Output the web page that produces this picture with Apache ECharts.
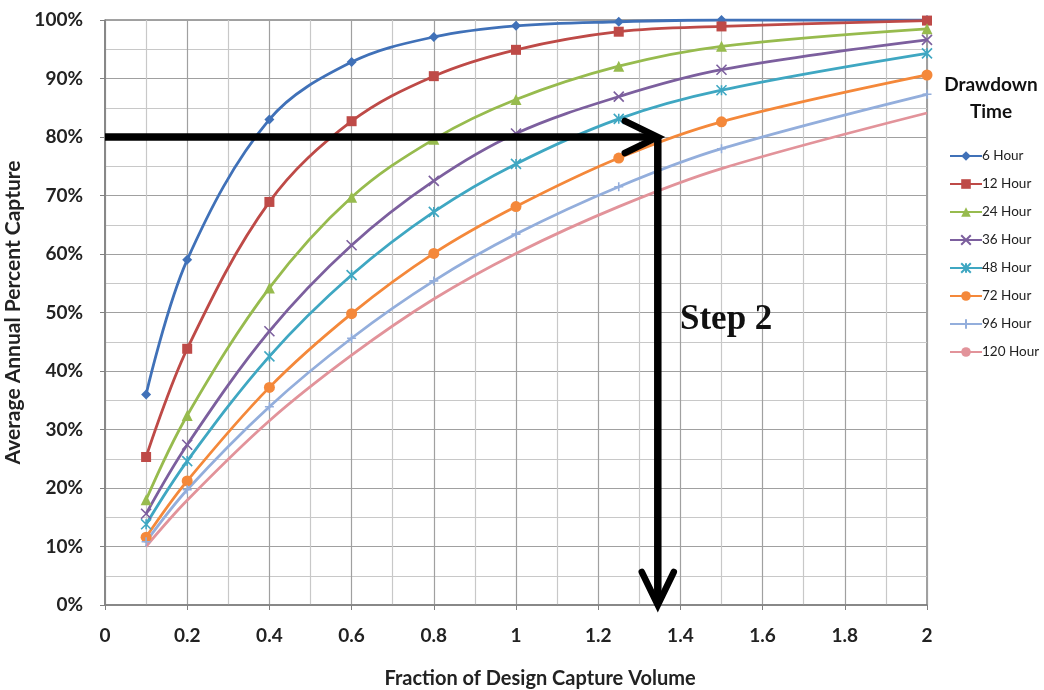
<!DOCTYPE html>
<html><head><meta charset="utf-8">
<script src="https://cdn.jsdelivr.net/npm/echarts@6/dist/echarts.min.js"></script>
<style>html,body{margin:0;padding:0;background:#fff}#c{width:1044px;height:690px}</style>
</head><body><div id="c"></div>
<script>
const xValues = [0.1, 0.2, 0.4, 0.6, 0.8, 1.0, 1.25, 1.5, 2.0];
const seriesNames = ['6 Hour','12 Hour','24 Hour','36 Hour','48 Hour','72 Hour','96 Hour','120 Hour'];
const h6   = [36, 59, 83, 92.8, 97.1, 99, 99.7, 100, 100];
const h12  = [25.3, 43.8, 68.9, 82.7, 90.4, 94.9, 98, 98.9, 99.9];
const h24  = [18, 32.4, 54.2, 69.7, 79.6, 86.4, 92.1, 95.5, 98.5];
const h36  = [15.6, 27.4, 46.8, 61.5, 72.5, 80.6, 86.9, 91.5, 96.6];
const h48  = [13.8, 24.6, 42.5, 56.4, 67.2, 75.4, 83.1, 88, 94.3];
const h72  = [11.6, 21.2, 37.2, 49.8, 60.1, 68.1, 76.4, 82.6, 90.6];
const h96  = [10.8, 19.7, 33.9, 45.6, 55.4, 63.4, 71.5, 78, 87.3];
const h120 = [10.0, 17.9, 31.5, 42.7, 52.3, 60.1, 68.1, 74.6, 84.1];
const yTickLabels = ['0%','10%','20%','30%','40%','50%','60%','70%','80%','90%','100%'];
const arrowSegments = [[0, 80, 1.345, 80], [1.345, 80, 1.345, 0]];

const allValues = [h6,h12,h24,h36,h48,h72,h96,h120];
const colors = ['#4071B8','#BE4A47','#97BB4E','#7C5F9E','#3FA7C2','#F4883A','#93AEDC','#E2939A'];
const symbols = ['diamond','rect','triangle',
  'path://M0,0L10,10M10,0L0,10',
  'path://M0,0L10,10M10,0L0,10M5,0L5,10',
  'circle',
  'path://M5,0L5,10M0,5L10,5',
  'none'];
const symSizes = [10, 10, 11, 10, 10, 11, 9, 6];

const series = allValues.map((vals, i) => ({
  name: seriesNames[i],
  type: 'line',
  smooth: 0.35,
  data: vals.map((v, j) => [xValues[j], v]),
  symbol: symbols[i],
  symbolSize: symSizes[i],
  lineStyle: { color: colors[i], width: 2.8 },
  itemStyle: { color: colors[i], borderColor: colors[i], borderWidth: (i===3||i===4||i===6) ? 1.6 : 0 },
  z: 3
}));

series.push({
  type: 'custom',
  name: 'arrows',
  data: arrowSegments,
  z: 10,
  silent: true,
  renderItem: function (params, api) {
    const p1 = api.coord([api.value(0), api.value(1)]);
    const p2 = api.coord([api.value(2), api.value(3)]);
    const dx = p2[0] - p1[0], dy = p2[1] - p1[1];
    const len = Math.sqrt(dx*dx + dy*dy);
    const ux = dx/len, uy = dy/len;
    const px = -uy, py = ux;
    const back = 33, side = 16;
    const a1 = [p2[0] - ux*back + px*side, p2[1] - uy*back + py*side];
    const a2 = [p2[0] - ux*back - px*side, p2[1] - uy*back - py*side];
    return {
      type: 'group',
      children: [
        { type: 'line', shape: { x1: p1[0], y1: p1[1], x2: p2[0] - ux*2, y2: p2[1] - uy*2 },
          style: { stroke: '#000', lineWidth: 7.5 } },
        { type: 'polyline', shape: { points: [a1, p2, a2] },
          style: { stroke: '#000', lineWidth: 6.5, fill: null, lineJoin: 'miter', lineCap: 'round' } }
      ]
    };
  }
});

const chart = echarts.init(document.getElementById('c'));
chart.setOption({
  animation: false,
  backgroundColor: '#fff',
  grid: { left: 105, top: 20, right: 117, bottom: 85, show: true, borderColor: '#444', borderWidth: 1,
          containLabel: false, outerBoundsMode: 'none' },
  title: {
    text: 'Drawdown\nTime', left: 986, top: 66, textAlign: 'center',
    textStyle: { fontFamily: 'Lato', fontWeight: 'bold', fontSize: 19, color: '#111', lineHeight: 27 }
  },
  legend: {
    orient: 'vertical', left: 944, top: 144, itemWidth: 32, itemHeight: 12, itemGap: 14,
    data: seriesNames,
    textStyle: { fontFamily: 'Lato', fontSize: 13.5, color: '#222', padding: [0,0,0,-5] }
  },
  xAxis: {
    type: 'value', min: 0, max: 2, interval: 0.2,
    name: 'Fraction of Design Capture Volume', nameLocation: 'middle', nameGap: 64,
    nameTextStyle: { fontFamily: 'Lato', fontWeight: 'bold', fontSize: 20, color: '#222', padding: [0,0,0,48] },
    axisLine: { show: true, lineStyle: { color: '#808080', width: 1.5 } },
    axisTick: { show: true, length: 5, lineStyle: { color: '#808080' } },
    axisLabel: { fontFamily: 'Lato', fontWeight: 'bold', fontSize: 19, color: '#222', margin: 21 },
    splitLine: { show: true, lineStyle: { color: '#a0a0a0', width: 1.2 } },
    minorTick: { show: false, splitNumber: 2 },
    minorSplitLine: { show: true, lineStyle: { color: '#c8c8c8', width: 1.2 } }
  },
  yAxis: {
    type: 'value', min: 0, max: 100, interval: 10,
    name: 'Average Annual Percent Capture', nameLocation: 'middle', nameGap: 74,
    nameTextStyle: { fontFamily: 'Lato', fontWeight: 'bold', fontSize: 21, color: '#222' },
    axisLine: { show: true, lineStyle: { color: '#808080', width: 1.5 } },
    axisTick: { show: true, length: 5, lineStyle: { color: '#808080' } },
    axisLabel: { fontFamily: 'Lato', fontWeight: 'bold', fontSize: 19, color: '#222', margin: 22,
      formatter: function (v) { return yTickLabels[Math.round(v/10)]; } },
    splitLine: { show: true, lineStyle: { color: '#a0a0a0', width: 1.2 } },
    minorTick: { show: false, splitNumber: 2 },
    minorSplitLine: { show: true, lineStyle: { color: '#c8c8c8', width: 1.2 } }
  },
  graphic: [{
    type: 'text', left: 680, top: 302, z: 20,
    style: { text: 'Step 2', fontFamily: 'Liberation Serif', fontWeight: 'bold', fontSize: 35, fill: '#111' }
  }],
  series: series
});
</script>
</body></html>
